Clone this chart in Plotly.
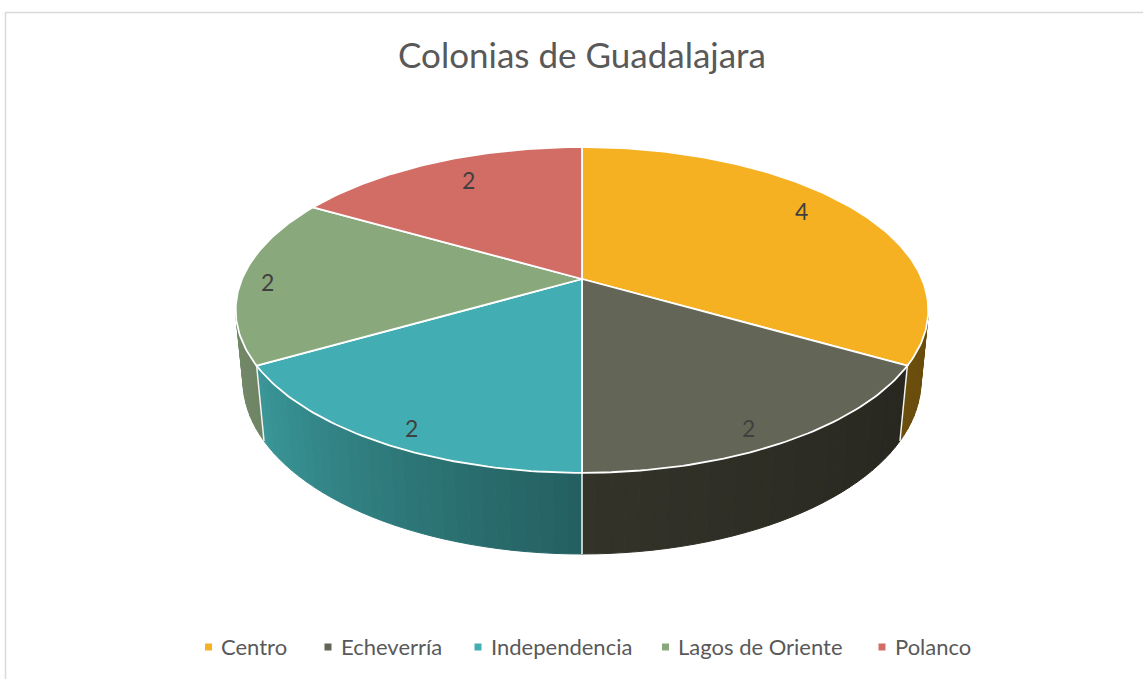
import math
import plotly.graph_objects as go

# ---- data ----
categories = ["Centro", "Echeverría", "Independencia", "Lagos de Oriente", "Polanco"]
values = [4, 2, 2, 2, 2]
title = "Colonias de Guadalajara"

# ---- styles ----
colors = ["#F6B122", "#636556", "#42AEB3", "#89A87C", "#D26D66"]
wall_start = ["#6b4d0c", "#33332a", "#3a9799", "#788f6c", "#8a4640"]
wall_end = ["#5c430b", "#27271f", "#245f60", "#6f8565", "#8a4640"]
label_shift = [(1, -10), (10, 24), (-14, 24), (-43, 3), (7, -3)]
legend_x = [208.5, 328, 478, 665.5, 882]
legend_y = 647
legend_text_gap = 10.7
text_col = "#404040"

# perspective model of the disc, in plot pixels
CX, CY, B, A, K, C, M = 582.0, 279.0, 340.0, 157.0, 0.19, 71.5, 0.021


def project(theta_deg, r=1.0, bottom=False):
    t = math.radians(theta_deg)
    u, v = r * math.sin(t), r * math.cos(t)
    z = 1.0 if bottom else 0.0
    w = 1 + K * v + M * z
    return CX + B * u / w, CY - (A * v - C * z) / w


def mix(c1, c2, f):
    a = [int(c1[i:i + 2], 16) for i in (1, 3, 5)]
    b = [int(c2[i:i + 2], 16) for i in (1, 3, 5)]
    return "#%02x%02x%02x" % tuple(round(p + (q - p) * f) for p, q in zip(a, b))


total = sum(values)
edges = [0.0]
for val in values:
    edges.append(edges[-1] + 360.0 * val / total)

fig = go.Figure()
STEP = 2.0
VIS_A, VIS_B = 100.0, 260.0  # visible arc of the outer wall

# walls
for i in range(len(values)):
    a0, a1 = max(edges[i], VIS_A), min(edges[i + 1], VIS_B)
    if a1 <= a0:
        continue
    n = max(1, int(round((a1 - a0) / STEP)))
    for j in range(n):
        t0 = a0 + (a1 - a0) * j / n
        t1 = a0 + (a1 - a0) * (j + 1) / n
        col = mix(wall_start[i], wall_end[i], (edges[i + 1] - (t0 + t1) / 2) / (edges[i + 1] - edges[i]))
        p0, p1 = project(t0), project(t1)
        q0, q1 = project(t0, bottom=True), project(t1, bottom=True)
        fig.add_trace(go.Scatter(
            x=[p0[0], p1[0], q1[0], q0[0], p0[0]], y=[p0[1], p1[1], q1[1], q0[1], p0[1]],
            mode="lines", fill="toself", fillcolor=col, line=dict(color=col, width=1),
            hoverinfo="skip", showlegend=False))

# white wall seams
for e in edges[1:4]:
    p, q = project(e), project(e, bottom=True)
    fig.add_trace(go.Scatter(x=[p[0], q[0]], y=[p[1], q[1]], mode="lines",
                             line=dict(color="#f4f4f0", width=1.5), hoverinfo="skip", showlegend=False))

# top slices
for i in range(len(values)):
    n = int((edges[i + 1] - edges[i]))
    pts = [project(edges[i] + (edges[i + 1] - edges[i]) * j / n) for j in range(n + 1)]
    xs = [CX] + [p[0] for p in pts] + [CX]
    ys = [CY] + [p[1] for p in pts] + [CY]
    fig.add_trace(go.Scatter(x=xs, y=ys, mode="lines", fill="toself", fillcolor=colors[i],
                             line=dict(color="#ffffff", width=1.8), hoverinfo="text",
                             text=f"{categories[i]}: {values[i]}", showlegend=False))

annotations = []

# legend entries
for i, cat in enumerate(categories):
    fig.add_trace(go.Scatter(x=[legend_x[i]], y=[legend_y], mode="markers", name=cat,
                             marker=dict(symbol="square", size=7, color=colors[i]),
                             hoverinfo="skip", showlegend=False))
    annotations.append(dict(x=legend_x[i] + legend_text_gap, y=legend_y - 1, xref="x", yref="y", text=cat,
                            showarrow=False, xanchor="left", yanchor="middle",
                            font=dict(family="Lato", size=22, color="#595959")))

# data labels
for i, val in enumerate(values):
    mid = (edges[i] + edges[i + 1]) / 2
    px, py = project(mid, r=0.8)
    annotations.append(dict(x=px, y=py, xref="x", yref="y", text=str(val), showarrow=False,
                            xshift=label_shift[i][0], yshift=-label_shift[i][1],
                            font=dict(family="Lato", size=23, color=text_col)))

fig.update_layout(
    width=1143, height=679, margin=dict(l=0, r=0, t=0, b=0),
    paper_bgcolor="#ffffff", plot_bgcolor="#ffffff",
    xaxis=dict(range=[0, 1143], visible=False, fixedrange=True),
    yaxis=dict(range=[679, 0], visible=False, fixedrange=True),
    title=dict(text=title, x=582 / 1143, xanchor="center", y=1 - 56 / 679, yanchor="middle",
               font=dict(family="Lato", size=35, color="#595959")),
    showlegend=False,
    annotations=annotations,
    shapes=[
        dict(type="line", xref="paper", yref="paper", x0=5 / 1143, x1=1, y0=1 - 12.5 / 679, y1=1 - 12.5 / 679,
             line=dict(color="#d9d9d9", width=1.5)),
        dict(type="line", xref="paper", yref="paper", x0=5.5 / 1143, x1=5.5 / 1143, y0=1 - 12 / 679, y1=0,
             line=dict(color="#d9d9d9", width=1.5)),
    ],
)

fig.write_html("out.html", config={"displayModeBar": False},
               post_script="document.body.style.margin='0';document.body.style.overflow='hidden';")
